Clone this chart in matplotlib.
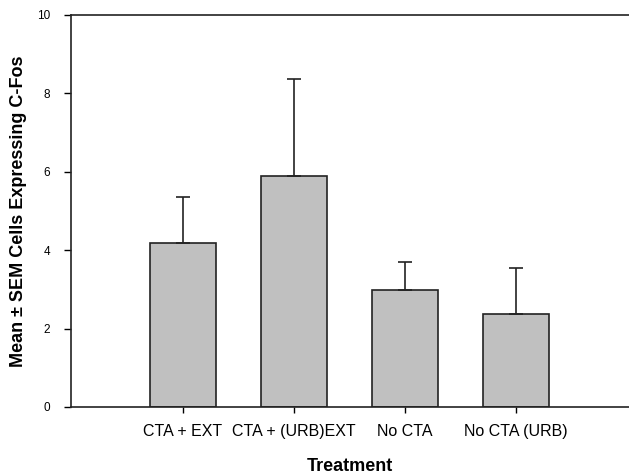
import numpy as np
import matplotlib.pyplot as plt

groups = ['CTA + EXT', 'CTA + (URB)EXT', 'No CTA', 'No CTA (URB)']
means = [4.18, 5.89, 2.98, 2.37]
sem = [1.18, 2.48, 0.72, 1.18]

plt.rcParams['font.family'] = ['Liberation Sans', 'DejaVu Sans']

fig = plt.figure(figsize=(6.29, 4.74), dpi=100)
ax = fig.add_axes([0.1129, 0.1414, 0.8871, 0.827])

x = np.arange(len(groups))
ax.bar(x, means, width=0.6, color='#c0c0c0', edgecolor='#222222', linewidth=1.2,
       yerr=[np.zeros(len(sem)), sem], error_kw=dict(ecolor='#222222', elinewidth=1.2,
                                                    capsize=5, capthick=1.2))

ax.set_xlim(-1.01, 4.02)
ax.set_ylim(0, 10)
ax.set_yticks([0, 2, 4, 6, 8, 10])
ax.set_xticks(x)
ax.set_xticklabels(groups, fontsize=11.5)
ax.tick_params(axis='y', labelsize=8.5, length=5, width=1, direction='out', pad=10)
ax.tick_params(axis='x', length=4, width=1, direction='out', pad=8)

ax.spines['right'].set_visible(False)
for s in ['left', 'top', 'bottom']:
    ax.spines[s].set_linewidth(1.2)
    ax.spines[s].set_color('#222222')

ax.set_xlabel('Treatment', fontsize=13, fontweight='bold', labelpad=14)
ax.set_ylabel('Mean \u00b1 SEM Cells Expressing C-Fos', fontsize=13, fontweight='bold')
ax.yaxis.set_label_coords(-0.079, 0.5)

fig.savefig('out.png', dpi=100)
